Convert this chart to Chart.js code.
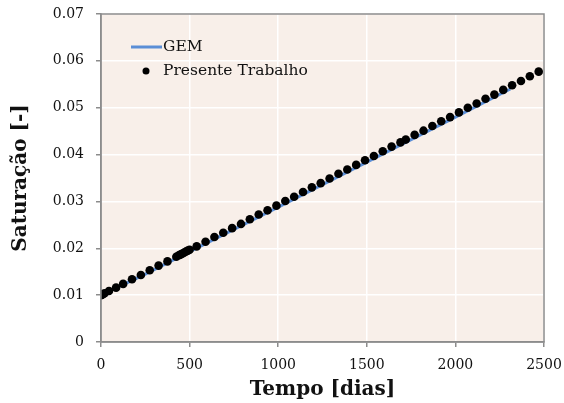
<!DOCTYPE html>
<html>
<head>
<meta charset="utf-8">
<script src="https://cdn.jsdelivr.net/npm/chart.js@4.4.1/dist/chart.umd.min.js"></script>
<style>
html,body{margin:0;padding:0;background:#fff;}
#wrap{width:564px;height:403px;}
</style>
</head>
<body>
<div id="wrap"><canvas id="c" width="564" height="403"></canvas></div>
<script>
// Data
const gemDays = [0, 250, 500, 1000, 1500, 2000, 2310];
const gemSat  = [0.0100, 0.0145, 0.0193, 0.0288, 0.0384, 0.0480, 0.0540];

const workDays = [0, 5, 10, 20, 45, 85, 125, 175, 225, 275, 325, 375, 425, 440, 450, 460, 470, 480, 490, 500,
  540, 590, 640, 690, 740, 790, 840, 890, 940, 990, 1040, 1090, 1140, 1190, 1240, 1290, 1340, 1390, 1440, 1490,
  1540, 1590, 1640, 1690, 1720, 1770, 1820, 1870, 1920, 1970, 2020, 2070, 2120, 2170, 2220, 2270, 2320, 2370, 2420, 2470];
const workSat = [0.0100, 0.0101, 0.0102, 0.0104, 0.0109, 0.0116, 0.0124, 0.0134, 0.0143, 0.0153, 0.0163, 0.0172, 0.0182, 0.0185, 0.0187, 0.0189, 0.0191, 0.0193, 0.0195, 0.0197,
  0.0204, 0.0214, 0.0224, 0.0233, 0.0243, 0.0252, 0.0262, 0.0272, 0.0281, 0.0291, 0.0301, 0.0310, 0.0320, 0.0330, 0.0339, 0.0349, 0.0359, 0.0368, 0.0378, 0.0388,
  0.0397, 0.0407, 0.0417, 0.0426, 0.0432, 0.0442, 0.0451, 0.0461, 0.0471, 0.0480, 0.0490, 0.0500, 0.0509, 0.0519, 0.0528, 0.0538, 0.0548, 0.0557, 0.0567, 0.0577];

const xTicks = [0, 500, 1000, 1500, 2000, 2500];
const yTicks = [0, 0.01, 0.02, 0.03, 0.04, 0.05, 0.06, 0.07];
const seriesNames = ['GEM', 'Presente Trabalho'];
const xTitle = 'Tempo [dias]';
const yTitle = 'Saturação [-]';

const FONT = "'DejaVu Serif', serif";
const BG = '#F8EFE9';
const AXIS = '#8C8C8C';
const BLUE = '#5B8ED6';

const bgPlugin = {
  id: 'bg',
  beforeDraw(chart) {
    const {ctx, chartArea: a} = chart;
    ctx.save();
    ctx.fillStyle = BG;
    ctx.fillRect(a.left, a.top, a.right - a.left, a.bottom - a.top);
    ctx.restore();
  },
  afterDatasetsDraw(chart) {
    const {ctx, chartArea: a} = chart;
    ctx.save();
    ctx.strokeStyle = AXIS;
    ctx.lineWidth = 1.5;
    ctx.strokeRect(a.left, a.top, a.right - a.left, a.bottom - a.top);
    // legend
    ctx.font = "15.5px " + FONT;
    ctx.fillStyle = '#111';
    ctx.textBaseline = 'middle';
    const lx = a.left + 30, ly1 = a.top + 33, ly2 = a.top + 57;
    ctx.strokeStyle = BLUE;
    ctx.lineWidth = 3;
    ctx.beginPath();
    ctx.moveTo(lx, ly1); ctx.lineTo(lx + 31, ly1); ctx.stroke();
    ctx.fillText(seriesNames[0], lx + 32, ly1);
    ctx.beginPath();
    ctx.arc(lx + 15, ly2, 3.5, 0, Math.PI * 2);
    ctx.fillStyle = '#000';
    ctx.fill();
    ctx.fillStyle = '#111';
    ctx.fillText(seriesNames[1], lx + 32, ly2);
    ctx.restore();
  }
};

new Chart(document.getElementById('c'), {
  type: 'scatter',
  data: {
    datasets: [
      {
        label: seriesNames[0],
        data: gemDays.map((d, i) => ({x: d, y: gemSat[i]})),
        showLine: true,
        borderColor: BLUE,
        borderWidth: 3,
        pointRadius: 0,
        order: 2
      },
      {
        label: seriesNames[1],
        data: workDays.map((d, i) => ({x: d, y: workSat[i]})),
        showLine: false,
        backgroundColor: '#000',
        borderColor: '#000',
        pointRadius: 4.3,
        pointBorderWidth: 0,
        order: 1
      }
    ]
  },
  plugins: [bgPlugin],
  options: {
    responsive: false,
    animation: false,
    layout: {padding: {left: 1, right: 20, top: 14, bottom: 0}},
    plugins: {legend: {display: false}, tooltip: {enabled: false}},
    scales: {
      x: {
        type: 'linear',
        min: 0, max: 2500,
        afterBuildTicks(s) { s.ticks = xTicks.map(v => ({value: v})); },
        afterFit(s) { s.height = 61; s.paddingLeft = 0; s.paddingRight = 0; },
        ticks: {
          font: {family: FONT, size: 14},
          color: '#111',
          padding: 10,
          maxRotation: 0,
          callback: v => String(v)
        },
        grid: {color: '#FFFFFF', lineWidth: 1.5, tickColor: AXIS, tickLength: 5, drawOnChartArea: true},
        border: {color: AXIS, width: 1.5},
        title: {display: true, text: xTitle, font: {family: FONT, size: 20, weight: 'bold'}, color: '#111', padding: {top: 0, bottom: 1}}
      },
      y: {
        type: 'linear',
        min: 0, max: 0.07,
        afterBuildTicks(s) { s.ticks = yTicks.map(v => ({value: v})); },
        afterFit(s) { s.width = 100; s.paddingTop = 0; s.paddingBottom = 0; },
        ticks: {
          font: {family: FONT, size: 14},
          color: '#111',
          padding: 12,
          callback: v => String(Math.round(v * 100) / 100)
        },
        grid: {color: '#FFFFFF', lineWidth: 1.5, tickColor: AXIS, tickLength: 5},
        border: {color: AXIS, width: 1.5},
        title: {display: true, text: yTitle, font: {family: FONT, size: 20, weight: 'bold'}, color: '#111', padding: {top: 8, bottom: 0}}
      }
    }
  }
});
</script>
</body>
</html>
